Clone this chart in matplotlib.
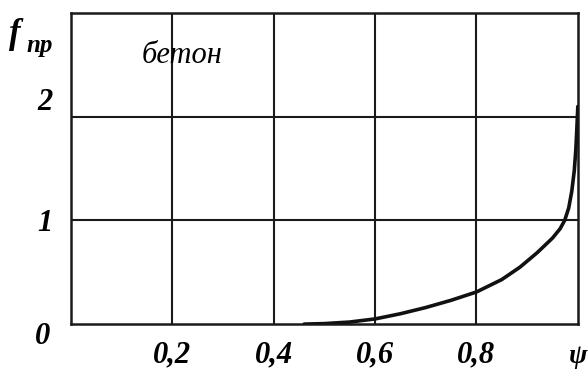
import matplotlib
matplotlib.use("Agg")
import matplotlib.pyplot as plt
import numpy as np

# curve
psi = [0.46, 0.50, 0.55, 0.60, 0.65, 0.70, 0.75, 0.80, 0.85, 0.886,
       0.92, 0.95, 0.965, 0.974, 0.982, 0.988, 0.993, 0.996, 0.998, 1.0]
f_np = [0.0, 0.005, 0.02, 0.05, 0.10, 0.16, 0.23, 0.31, 0.43, 0.55,
        0.69, 0.83, 0.92, 1.0, 1.12, 1.28, 1.48, 1.68, 1.88, 2.1]

x_ticks = [0.2, 0.4, 0.6, 0.8]
x_labels = ["0,2", "0,4", "0,6", "0,8"]
y_ticks = [1, 2]
y_labels = ["1", "2"]

font = {"family": "Liberation Serif", "style": "italic", "weight": "bold"}

fig = plt.figure(figsize=(5.88, 3.76), dpi=100)
ax = fig.add_axes([0.1207, 0.138, 0.862, 0.827])
ax.set_xlim(0, 1.0)
ax.set_ylim(0, 3)

# grid
for x in [0.2, 0.4, 0.6, 0.8]:
    ax.axvline(x, color="#1a1a1a", lw=1.5, zorder=1)
for y in [1, 2]:
    ax.axhline(y, color="#1a1a1a", lw=1.5, zorder=1)
for s in ax.spines.values():
    s.set_linewidth(1.8)
    s.set_color("#1a1a1a")

ax.plot(psi, f_np, color="#111111", lw=2.6, solid_joinstyle="round",
        solid_capstyle="round", zorder=3)

ax.set_xticks(x_ticks)
ax.set_xticklabels(x_labels, fontdict=font, fontsize=22)
ax.set_yticks(y_ticks)
ax.set_yticklabels(y_labels, fontdict=font, fontsize=22)
ax.tick_params(length=0)
ax.tick_params(axis="x", pad=12)
ax.tick_params(axis="y", pad=13)
ax.get_yticklabels()[1].set_verticalalignment("bottom")

ax.text(-0.057, -0.12, "0", fontdict=font, fontsize=22, ha="center",
        va="center", clip_on=False)
# f with subscript "пр"
ax.text(-0.122, 2.79, "f", fontdict=font, fontsize=25, ha="left",
        va="center", clip_on=False)
ax.text(-0.088, 2.69, "пр", fontdict=font, fontsize=18, ha="left",
        va="center", clip_on=False)
ax.text(1.0, -0.31, "ψ", fontdict=font, fontsize=20, ha="center",
        va="center", clip_on=False)
ax.text(0.14, 2.59, "бетон", family="Liberation Serif", style="italic",
        fontsize=22, ha="left", va="center")

fig.savefig("out.png", dpi=100)
